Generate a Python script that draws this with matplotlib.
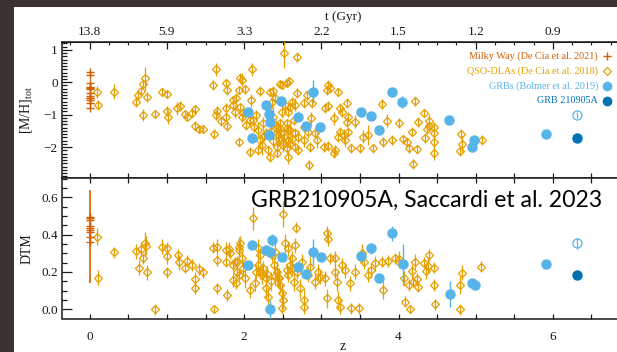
import matplotlib
matplotlib.use("Agg")
import matplotlib.pyplot as plt
from matplotlib.patches import Rectangle
from matplotlib.lines import Line2D
from matplotlib.ticker import MultipleLocator, FuncFormatter, FixedLocator

plt.rcParams['font.family'] = ['Liberation Serif', 'DejaVu Serif']
plt.rcParams['mathtext.fontset'] = 'custom'
plt.rcParams['mathtext.rm'] = 'Liberation Serif'
plt.rcParams['mathtext.it'] = 'Liberation Serif:italic'

# ---------------- data ----------------
# Milky Way (De Cia et al. 2021)
mw_z = [0, 0, 0, 0, 0, 0, 0, 0, 0, 0, 0, 0, 0]
mw_mh = [0.33, 0.23, -0.01, -0.15, -0.19, -0.22, -0.34, -0.42, -0.47, -0.50, -0.55, -0.65, -0.78]
mw_dtm_z = [0, 0, 0, 0, 0, 0, 0, 0, 0]
mw_dtm = [0.496, 0.487, 0.478, 0.448, 0.437, 0.425, 0.412, 0.389, 0.359]
mw_dtm_err = [0, 0, 0, 0, 0, 0, 0, 0.25, 0]

# QSO-DLAs (De Cia et al. 2018) -- [M/H]tot panel
dla_mh_z = [
    0.09, 0.11, 0.31, 0.60, 0.63, 0.66, 0.69, 0.72, 0.74, 0.69, 0.85, 0.94, 1.00, 1.00, 1.02,
    1.13, 1.17, 1.23, 1.26, 1.33, 1.37, 1.36, 1.41, 1.47, 1.61, 1.60, 1.64, 1.65, 1.64,
    2.10, 1.76, 1.78, 1.95, 1.97, 1.93, 2.01, 2.09, 2.21, 2.34, 2.38, 2.46, 2.49, 2.55,
    1.77, 1.77, 1.78, 1.85, 1.86, 1.88, 1.90, 1.95, 1.97, 1.99, 1.93, 2.03, 2.07, 2.08,
    2.16, 2.18, 2.21, 2.23, 2.25, 2.31, 2.36, 2.40, 2.38, 2.41, 2.44, 2.47, 2.49, 2.53,
    2.55, 2.42, 2.31, 2.34, 2.42, 2.51, 2.57, 2.18, 2.12, 2.13, 2.52,
    2.69, 2.58, 2.69, 2.62, 2.60, 2.66, 2.57, 2.64, 2.55, 2.60, 2.57, 2.66, 2.70, 2.77,
    2.77, 2.66, 2.70, 2.57, 2.55, 2.81, 2.77, 2.88, 2.87, 2.83, 2.92, 2.94, 2.85, 3.03,
    3.09, 3.18, 3.16, 2.84, 3.07, 3.09, 3.11, 3.21, 3.05, 3.09, 3.16, 3.24, 3.27, 3.33,
    3.34, 3.33, 3.44, 3.24, 3.29, 3.35, 3.31, 3.22, 3.39, 3.50, 3.54, 3.61, 3.67, 3.80,
    3.91, 3.78, 3.85, 4.00,
    4.06, 4.11, 4.14, 4.24, 4.19, 4.22, 4.33, 4.25, 4.17, 4.34, 4.39, 4.37, 4.40, 4.46,
    4.46, 4.46, 4.46, 4.81, 4.82, 4.80, 5.08,
    2.35, 2.45, 2.48, 2.52, 2.38, 2.28, 2.60, 2.62, 2.50, 2.44, 1.70, 2.26, 2.46,
]
dla_mh = [
    -0.31, -0.70, -0.29, -0.60, -0.39, -0.26, -0.06, 0.12, -0.46, -1.01, -0.99, -0.31, -0.36, -0.88, -1.06,
    -0.80, -0.73, -0.98, -1.06, -0.94, -0.82, -1.35, -1.45, -1.44, -1.60, -0.08, 0.40, -0.89, -1.01,
    0.40, -0.01, -0.24, 0.12, 0.07, -0.24, -0.22, -0.55, -0.26, -0.29, -0.26, -0.06, -0.08, -0.03,
    -0.80, -1.08, -1.35, -0.55, -0.70, -0.91, -0.49, -0.75, -1.08, -0.96, -1.83, -1.32, -1.16, -2.14,
    -1.01, -1.47, -1.78, -1.94, -1.27, -0.75, -0.60, -0.49, -1.06, -1.42, -1.63, -1.27, -0.91, -0.70,
    -1.42, -1.99, -2.09, -2.30, -2.19, -1.94, -1.47, -2.09, -1.16, -1.37, 0.89,
    0.77, 0.05, -0.34, -0.60, -0.75, -0.70, -0.91, -1.16, -1.27, -1.47, -1.78, -1.57, -1.68, -1.37,
    -1.78, -1.99, -2.09, -2.31, -2.04, -0.39, -0.65, -0.65, -1.11, -1.52, -1.57, -1.78, -1.99, -1.99,
    -1.97, -2.09, -2.19, -2.55, -0.24, -0.08, -0.19, -0.29, -0.80, -0.73, -1.11, -0.80, -0.91, -0.65,
    -1.06, -1.22, -1.22, -1.52, -1.63, -1.52, -1.78, -1.68, -2.04, -2.04, -1.68, -1.63, -2.04, -1.83,
    -1.78, -0.67, -1.18, -1.25,
    -1.76, -1.83, -2.04, -2.07, -2.52, -0.57, -0.94, -1.22, -1.52, -1.71, -1.18, -1.45, -1.35, -1.39,
    -1.56, -1.83, -2.19, -1.60, -1.90, -2.11, -1.78,
    -1.50, -1.75, -1.55, -1.70, -1.80, -1.55, -1.90, -1.75, -1.85, -1.38, -1.20, -1.65, -1.45,
]
dla_mh_err = [
    0.19, 0.15, 0.23, 0.15, 0.12, 0.12, 0.12, 0.36, 0.15, 0.19, 0.12, 0.12, 0.12, 0.15, 0.22,
    0.20, 0.15, 0.12, 0.12, 0.12, 0.12, 0.15, 0.12, 0.12, 0.15, 0.15, 0.20, 0.15, 0.15,
    0.20, 0.12, 0.15, 0.15, 0.20, 0.12, 0.15, 0.20, 0.15, 0.12, 0.15, 0.12, 0.12, 0.12,
    0.15, 0.12, 0.15, 0.12, 0.15, 0.20, 0.15, 0.12, 0.15, 0.15, 0.12, 0.15, 0.20, 0.15,
    0.15, 0.25, 0.20, 0.30, 0.20, 0.15, 0.20, 0.15, 0.30, 0.25, 0.35, 0.15, 0.20, 0.15,
    0.20, 0.20, 0.15, 0.15, 0.12, 0.20, 0.15, 0.15, 0.15, 0.15, 0.45,
    0.15, 0.12, 0.15, 0.15, 0.15, 0.20, 0.15, 0.15, 0.15, 0.20, 0.20, 0.15, 0.20, 0.15,
    0.20, 0.15, 0.15, 0.20, 0.15, 0.15, 0.15, 0.15, 0.20, 0.20, 0.15, 0.25, 0.15, 0.15,
    0.15, 0.15, 0.15, 0.15, 0.15, 0.15, 0.15, 0.12, 0.15, 0.15, 0.20, 0.15, 0.15, 0.15,
    0.15, 0.15, 0.20, 0.15, 0.20, 0.15, 0.20, 0.15, 0.15, 0.15, 0.20, 0.30, 0.15, 0.15,
    0.15, 0.15, 0.20, 0.15,
    0.15, 0.15, 0.15, 0.15, 0.15, 0.15, 0.12, 0.15, 0.15, 0.15, 0.20, 0.15, 0.15, 0.15,
    0.15, 0.20, 0.20, 0.15, 0.25, 0.15, 0.15,
    0.15, 0.20, 0.15, 0.15, 0.20, 0.15, 0.15, 0.15, 0.20, 0.15, 0.15, 0.15, 0.20,
]

# QSO-DLAs -- DTM panel
dla_dtm_z = [
    0.09, 0.11, 0.31, 0.60, 0.64, 0.67, 0.69, 0.72, 0.73, 0.74, 0.85, 0.94, 1.00, 1.00, 1.00,
    1.14, 1.16, 1.23, 1.26, 1.33, 1.37, 1.37, 1.41, 1.47, 1.61, 1.60, 1.65, 1.65, 1.65,
    1.78, 1.77, 1.80, 1.82, 1.76, 1.86, 1.88, 1.86, 1.90, 1.93, 1.91,
    2.12, 2.51, 1.95, 1.93, 1.91, 1.97, 1.99, 2.01, 1.93, 2.08, 2.14, 2.18, 2.21, 2.18,
    2.16, 2.23, 2.25, 2.29, 2.28, 2.31, 2.36, 2.40, 2.39, 2.42, 2.44, 2.46, 2.49, 2.51,
    2.49, 2.53, 2.57, 2.60, 2.57, 2.62, 2.66, 2.67, 2.64, 2.68, 2.75, 2.72, 2.77, 2.77,
    2.83, 2.85, 2.92, 2.96, 2.98, 3.05, 3.08, 3.09, 3.11, 3.07, 3.18, 3.20, 3.22, 3.24,
    3.27, 3.31, 3.37, 3.44, 3.38, 3.49, 3.53, 3.55, 3.60, 3.65, 3.70, 3.78, 3.80, 3.87,
    3.95, 4.00, 3.18,
    4.01, 4.07, 4.08, 4.15, 4.13, 4.17, 4.22, 4.19, 4.24, 4.25, 4.33, 4.35, 4.39, 4.38,
    4.46, 4.46, 4.47, 4.80, 4.82, 4.80, 5.07,
    2.30, 2.45, 2.55, 2.35, 2.20, 2.62, 2.40,
]
dla_dtm = [
    0.389, 0.169, 0.305, 0.312, 0.223, 0.323, 0.273, 0.353, 0.341, 0.198, 0.000, 0.335, 0.330, 0.285, 0.198,
    0.291, 0.252, 0.223, 0.260, 0.237, 0.161, 0.112, 0.216, 0.198, 0.000, 0.330, 0.335, 0.264, 0.112,
    0.077, 0.318, 0.323, 0.300, 0.255, 0.237, 0.252, 0.157, 0.139, 0.335, 0.201,
    0.487, 0.509, 0.353, 0.318, 0.255, 0.273, 0.220, 0.166, 0.184, 0.103, 0.139, 0.327, 0.291, 0.237,
    0.201, 0.184, 0.220, 0.166, 0.112, 0.067, 0.291, 0.309, 0.237, 0.201, 0.166, 0.130, 0.086, 0.050,
    0.005, 0.353, 0.327, 0.237, 0.184, 0.273, 0.344, 0.437, 0.148, 0.201, 0.255, 0.112, 0.050, 0.014,
    0.184, 0.228, 0.148, 0.201, 0.175, 0.166, 0.407, 0.377, 0.273, 0.059, 0.201, 0.148, 0.050, 0.014,
    0.237, 0.210, 0.139, 0.201, 0.005, 0.005, 0.300, 0.255, 0.184, 0.210, 0.246, 0.255, 0.103, 0.259,
    0.273, 0.252, 0.273,
    0.270, 0.166, 0.041, 0.000, 0.130, 0.205, 0.255, 0.148, 0.162, 0.121, 0.250, 0.205, 0.291, 0.234,
    0.223, 0.130, 0.027, 0.130, 0.196, 0.000, 0.228,
    0.190, 0.170, 0.210, 0.150, 0.200, 0.220, 0.180,
]
dla_dtm_err = [
    0.047, 0.04, 0.03, 0.04, 0.04, 0.04, 0.03, 0.06, 0.05, 0.04, 0.03, 0.04, 0.03, 0.04, 0.03,
    0.03, 0.04, 0.03, 0.03, 0.03, 0.04, 0.03, 0.03, 0.03, 0.02, 0.03, 0.04, 0.03, 0.03,
    0.03, 0.04, 0.04, 0.03, 0.03, 0.03, 0.03, 0.04, 0.03, 0.05, 0.03,
    0.06, 0.07, 0.04, 0.04, 0.03, 0.04, 0.04, 0.05, 0.03, 0.04, 0.04, 0.05, 0.04, 0.04,
    0.04, 0.05, 0.04, 0.04, 0.05, 0.05, 0.04, 0.04, 0.04, 0.06, 0.05, 0.04, 0.05, 0.05,
    0.03, 0.05, 0.04, 0.05, 0.04, 0.04, 0.04, 0.03, 0.05, 0.04, 0.04, 0.05, 0.06, 0.04,
    0.04, 0.05, 0.04, 0.04, 0.04, 0.04, 0.04, 0.04, 0.03, 0.05, 0.04, 0.05, 0.05, 0.04,
    0.04, 0.04, 0.04, 0.04, 0.03, 0.03, 0.05, 0.04, 0.04, 0.04, 0.04, 0.03, 0.05, 0.03,
    0.03, 0.03, 0.04,
    0.04, 0.04, 0.03, 0.02, 0.03, 0.04, 0.04, 0.03, 0.03, 0.03, 0.03, 0.04, 0.03, 0.04,
    0.03, 0.03, 0.03, 0.05, 0.04, 0.03, 0.03,
    0.04, 0.05, 0.04, 0.05, 0.04, 0.04, 0.05,
]

# GRBs (Bolmer et al. 2019)
grb_mh_z = [2.05, 2.10, 2.29, 2.32, 2.34, 2.32, 2.48, 2.70, 2.80, 2.89, 2.98, 3.51, 3.64, 3.75, 3.92,
            4.05, 4.65, 4.95, 4.98, 5.91]
grb_mh = [-0.93, -1.73, -0.70, -0.98, -1.23, -1.63, -0.58, -1.06, -1.35, -0.29, -1.39, -0.93, -1.03,
          -1.47, -0.29, -0.60, -1.16, -2.00, -1.78, -1.60]
grb_mh_err = [0.08, 0.08, 0.08, 0.08, 0.08, 0.08, 0.08, 0.08, 0.08, 0.35, 0.08, 0.08, 0.08, 0.08,
              0.08, 0.18, 0.08, 0.08, 0.08, 0.08]
grb_dtm_z = [2.05, 2.10, 2.29, 2.33, 2.36, 2.49, 2.33, 2.70, 2.80, 2.89, 2.99, 3.51, 3.64, 3.75, 3.92,
             4.06, 4.67, 4.95, 4.99, 5.91]
grb_dtm = [0.237, 0.344, 0.318, 0.305, 0.371, 0.282, 0.000, 0.228, 0.189, 0.305, 0.282, 0.287, 0.327,
           0.166, 0.407, 0.241, 0.080, 0.139, 0.130, 0.243]
grb_dtm_err = [0.02, 0.02, 0.02, 0.02, 0.03, 0.02, 0.05, 0.02, 0.02, 0.07, 0.02, 0.02, 0.03, 0.02,
               0.04, 0.11, 0.07, 0.02, 0.02, 0.02]

# GRB 210905A (this work)
this_z = [6.31]
this_mh = [-1.73]
this_dtm = [0.184]
this_alt_mh = [-1.01]
this_alt_mh_err = [0.08]
this_alt_dtm = [0.353]
this_alt_dtm_err = [0.03]

# top axis: redshift -> cosmic time labels
t_tick_z = [0, 1, 2, 3, 4, 5, 6]
t_tick_labels = ['13.8', '5.9', '3.3', '2.2', '1.5', '1.2', '0.9']

legend_labels = ['Milky Way (De Cia et al. 2021)', 'QSO-DLAs (De Cia et al. 2018)',
                 'GRBs (Bolmer et al. 2019)', 'GRB 210905A']

# ---------------- styling ----------------
C_MW = '#D55E00'
C_DLA = '#E69F00'
C_GRB = '#56B4E9'
C_THIS = '#0072B2'
C_AX = '#1a1a1a'

W_PX, H_PX = 617, 352
fig = plt.figure(figsize=(W_PX / 100, H_PX / 100), dpi=100)
fig.patch.set_facecolor('#3b3231')
fig.patches.append(Rectangle((14 / W_PX, 0), 1, (H_PX - 7) / H_PX, transform=fig.transFigure,
                             facecolor='white', edgecolor='none', zorder=-10))


def fx(px):
    return px / W_PX


def fy(py):
    return 1 - py / H_PX


X_LEFT, X_RIGHT = 62, 625
Y_TOP, Y_MID, Y_BOT = 42, 178, 318.5
ax1 = fig.add_axes([fx(X_LEFT), fy(Y_MID), fx(X_RIGHT - X_LEFT), (Y_MID - Y_TOP) / H_PX])
ax2 = fig.add_axes([fx(X_LEFT), fy(Y_BOT), fx(X_RIGHT - X_LEFT), (Y_BOT - Y_MID) / H_PX])

XLIM = (-0.359, 6.934)
for ax in (ax1, ax2):
    ax.set_xlim(*XLIM)
    for s in ax.spines.values():
        s.set_color(C_AX)
        s.set_linewidth(1.1)
    ax.xaxis.set_major_locator(MultipleLocator(0.5))
    ax.tick_params(axis='x', which='major', direction='in', length=3.8, width=0.9, color=C_AX,
                   top=True, bottom=True, labelsize=9.5, labelcolor=C_AX, pad=9)
    ax.tick_params(axis='y', which='both', direction='in', color=C_AX, width=0.9,
                   left=True, right=False, labelsize=9.5, labelcolor=C_AX, pad=3)
    ax.tick_params(axis='y', which='major', length=7.5)
    ax.tick_params(axis='y', which='minor', length=3.5)

ax1.set_ylim(-2.95, 1.24)
ax1.yaxis.set_major_locator(MultipleLocator(1))
ax1.yaxis.set_minor_locator(MultipleLocator(0.1))
ax1.tick_params(axis='x', labelbottom=False, top=False)

ax2.set_ylim(-0.049, 0.703)
ax2.yaxis.set_major_locator(MultipleLocator(0.2))
ax2.yaxis.set_minor_locator(MultipleLocator(0.05))
ax2.yaxis.set_major_formatter(FuncFormatter(lambda v, p: f'{v:.1f}'))
ax2.xaxis.set_major_formatter(FuncFormatter(
    lambda v, p: (f'{int(round(v))}' if abs(v - round(v)) < 1e-6 and int(round(v)) % 2 == 0 else '')))

# top time axis
axt = ax1.secondary_xaxis('top')
axt.xaxis.set_major_locator(FixedLocator(t_tick_z))
axt.set_xticklabels(t_tick_labels)
axt.tick_params(direction='in', length=5, width=0.9, color=C_AX, labelsize=9.5, labelcolor=C_AX, pad=3)
axt.xaxis.set_minor_locator(MultipleLocator(0.25))
axt.tick_params(which='minor', direction='in', length=2.5, width=0.8, color=C_AX)
axt.set_xlabel('t (Gyr)', fontsize=9.5, color=C_AX, labelpad=4)
axt.spines['top'].set_color(C_AX)

LBL_X = (34 - X_LEFT) / (X_RIGHT - X_LEFT)
ax1.set_ylabel(r'[M/H]$_{\mathrm{tot}}$', fontsize=10, color=C_AX)
ax1.yaxis.set_label_coords(LBL_X, 0.5)
ax2.set_ylabel('DTM', fontsize=10, color=C_AX)
ax2.yaxis.set_label_coords(LBL_X, 0.5)
# x-axis label "z", placed at the very bottom edge of the figure
fig.text(fx(343), fy(350), 'z', ha='center', va='baseline', fontsize=10, color=C_AX)

# ---------------- data drawing ----------------
dla_kw = dict(fmt='D', ms=4.3, mfc='none', mec=C_DLA, mew=0.9, ecolor=C_DLA, elinewidth=0.9,
              capsize=0, zorder=3)
grb_kw = dict(fmt='o', ms=6.5, mfc=C_GRB, mec=C_GRB, ecolor=C_GRB, elinewidth=1.0, capsize=0, zorder=5)

# top panel
ax1.errorbar(dla_mh_z, dla_mh, yerr=dla_mh_err, **dla_kw)
ax1.plot(mw_z, mw_mh, ls='none', marker='+', ms=6, mew=1.0, color=C_MW, zorder=4)
ax1.errorbar(grb_mh_z, grb_mh, yerr=grb_mh_err, **grb_kw)
ax1.plot(this_z, this_mh, ls='none', marker='o', ms=6.5, color=C_THIS, zorder=6)
ax1.errorbar(this_z, this_alt_mh, yerr=this_alt_mh_err, fmt='o', ms=6.5, mfc='none', mec=C_GRB,
             mew=0.9, ecolor=C_GRB, elinewidth=0.9, capsize=0, zorder=6)

# bottom panel
ax2.errorbar(dla_dtm_z, dla_dtm, yerr=dla_dtm_err, **dla_kw)
ax2.errorbar(mw_dtm_z, mw_dtm, yerr=mw_dtm_err, fmt='+', ms=6, mew=1.0, color=C_MW,
             ecolor=C_MW, elinewidth=1.2, capsize=0, zorder=4)
ax2.errorbar(grb_dtm_z, grb_dtm, yerr=grb_dtm_err, **grb_kw)
ax2.plot(this_z, this_dtm, ls='none', marker='o', ms=6.5, color=C_THIS, zorder=6)
ax2.errorbar(this_z, this_alt_dtm, yerr=this_alt_dtm_err, fmt='o', ms=6.5, mfc='none', mec=C_GRB,
             mew=0.9, ecolor=C_GRB, elinewidth=0.9, capsize=0, zorder=6)

# ---------------- legend (manual) ----------------
leg_y = [55.7, 71.3, 86.0, 101.0]
leg_colors = [C_MW, C_DLA, C_GRB, C_THIS]
leg_markers = [dict(marker='+', ms=6, mew=1.0, mfc=C_MW, mec=C_MW),
               dict(marker='D', ms=4.3, mew=0.9, mfc='none', mec=C_DLA),
               dict(marker='o', ms=6.5, mew=0.5, mfc=C_GRB, mec=C_GRB),
               dict(marker='o', ms=6.5, mew=0.5, mfc=C_THIS, mec=C_THIS)]
for lab, yy, cc, mk in zip(legend_labels, leg_y, leg_colors, leg_markers):
    fig.text(fx(598), fy(yy), lab, ha='right', va='center', fontsize=7.3, color=cc)
    fig.add_artist(Line2D([fx(606.5)], [fy(yy)], ls='none', transform=fig.transFigure, **mk))

# annotation
fig.text(fx(251), fy(207.3), 'GRB210905A, Saccardi et al. 2023', ha='left', va='baseline',
         fontsize=16.6, color='black', family=['Lato', 'DejaVu Sans'], zorder=20)

fig.savefig('out.png', dpi=100, facecolor=fig.get_facecolor())
